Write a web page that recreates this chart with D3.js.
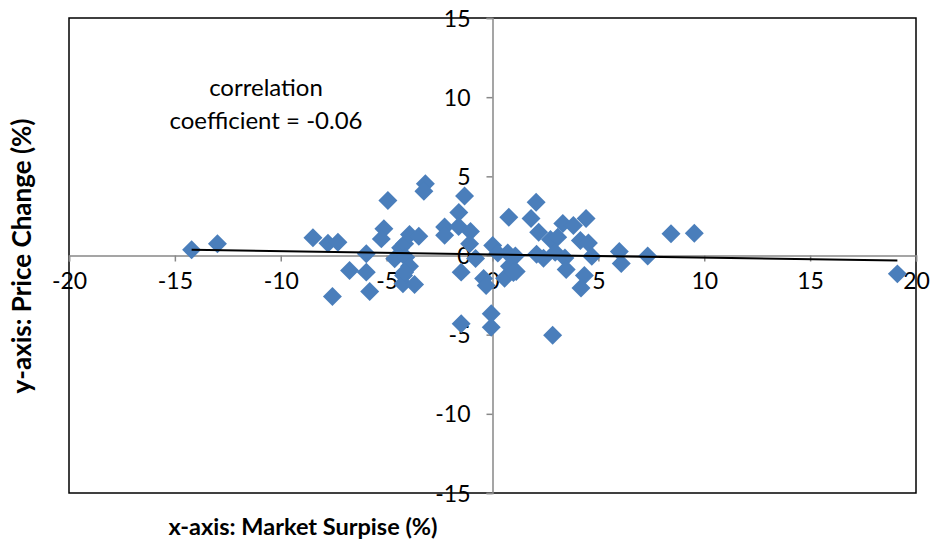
<!DOCTYPE html>
<html><head><meta charset="utf-8">
<script src="https://cdn.jsdelivr.net/npm/d3@7"></script>
<style>body{margin:0;background:#fff}svg{display:block}</style>
</head><body><svg id="c" width="931" height="543"></svg>
<script>
const surprise = [-14.21,-12.99,-8.48,-7.77,-7.30,-7.56,-6.75,-5.96,-5.96,-5.80,-4.94,-5.13,-5.25,-4.62,-4.34,-4.15,-4.10,-3.92,-3.48,-3.92,-4.20,-4.23,-3.68,-4.15,-3.17,-3.24,
-2.26,-2.26,-1.32,-1.59,-1.60,-1.04,-1.08,-0.80,-1.48,-1.48,-0.42,-0.30,0.01,0.25,-0.06,-0.06,
0.77,2.06,1.82,2.18,3.32,3.82,4.42,2.74,3.08,4.15,4.53,0.72,1.08,2.08,2.41,2.96,3.42,4.69,0.80,1.12,0.57,0.99,3.48,4.34,4.18,2.84,
5.99,6.08,7.33,8.43,9.53,19.12];
const priceChange = [0.36,0.74,1.12,0.78,0.84,-2.59,-0.95,-1.05,0.11,-2.27,3.47,1.69,1.05,-0.21,0.49,0.74,-0.11,1.33,1.21,-0.68,-1.26,-1.79,-1.83,-1.05,4.53,4.06,
1.80,1.28,3.76,2.72,1.83,1.52,0.74,-0.19,-1.05,-4.31,-1.45,-1.89,0.63,0.15,-3.68,-4.53,
2.42,3.37,2.33,1.47,2.02,1.90,2.33,1.01,1.16,0.95,0.79,0.16,-0.03,0.08,-0.18,0.20,-0.16,-0.05,-0.68,-1.01,-1.44,-1.07,-0.88,-1.26,-2.05,-5.04,
0.25,-0.51,-0.03,1.37,1.41,-1.16];
// linear trendline
const trendIntercept = 0.07;
const trendSlope = -0.0204;
const xTicks = [-20,-15,-10,-5,0,5,10,15,20];
const yTicks = [-15,-10,-5,0,5,10,15];
const xTitle = "x-axis: Market Surpise (%)";
const yTitle = "y-axis: Price Change (%)";
const noteLines = ["correlation","coefficient = -0.06"];

const svg = d3.select("#c");
const L=69,R=916,T=18,B=493;
const x = d3.scaleLinear().domain([-20,20]).range([L,R]);
const y = d3.scaleLinear().domain([-15,15]).range([B,T]);
const font = "Lato, 'Open Sans', sans-serif";

svg.append("rect").attr("x",L).attr("y",T).attr("width",R-L).attr("height",B-T)
  .attr("fill","none").attr("stroke","#000").attr("stroke-width",1.5);

const fmt = d=>String(d);
const xAx = svg.append("g").attr("transform",`translate(0,${y(0)})`)
  .call(d3.axisBottom(x).tickValues(xTicks).tickSize(6).tickPadding(11).tickFormat(fmt));
const yAx = svg.append("g").attr("transform",`translate(${x(0)},0)`)
  .call(d3.axisLeft(y).tickValues(yTicks).tickSize(6).tickPadding(16).tickFormat(fmt));
[xAx,yAx].forEach(g=>{
  g.select(".domain").attr("stroke","#888").attr("stroke-width",1.5);
  g.selectAll(".tick line").attr("stroke","#888").attr("stroke-width",1.5);
  g.selectAll("text").attr("font-family",font).attr("font-size",23).attr("fill","#000");
});
xAx.selectAll("text").attr("dy","0.71em");
yAx.selectAll("text").attr("dy","0.35em");

const pts = surprise.map((v,i)=>[v,priceChange[i]]);
const sym = d3.symbol().type(d3.symbolSquare).size(180);
svg.append("g").selectAll("path").data(pts).join("path")
  .attr("d",sym)
  .attr("transform",d=>`translate(${x(d[0])},${y(d[1])}) rotate(45)`)
  .attr("fill","#4a7ebb");

const xe=d3.extent(surprise);
svg.append("line").attr("x1",x(xe[0])).attr("y1",y(trendIntercept+trendSlope*xe[0]))
  .attr("x2",x(xe[1])).attr("y2",y(trendIntercept+trendSlope*xe[1])).attr("stroke","#000").attr("stroke-width",2);

svg.append("text").attr("font-family",font).attr("font-size",24).attr("text-anchor","middle")
  .selectAll("tspan").data(noteLines).join("tspan").attr("x",266).attr("y",(d,i)=>96+i*33).text(d=>d);

svg.append("text").attr("x",303).attr("y",535).attr("text-anchor","middle")
  .attr("font-family",font).attr("font-weight","bold").attr("font-size",23.5).text(xTitle);
svg.append("text").attr("transform",`translate(31,256) rotate(-90)`).attr("text-anchor","middle")
  .attr("font-family",font).attr("font-weight","bold").attr("font-size",26).text(yTitle);
</script></body></html>
